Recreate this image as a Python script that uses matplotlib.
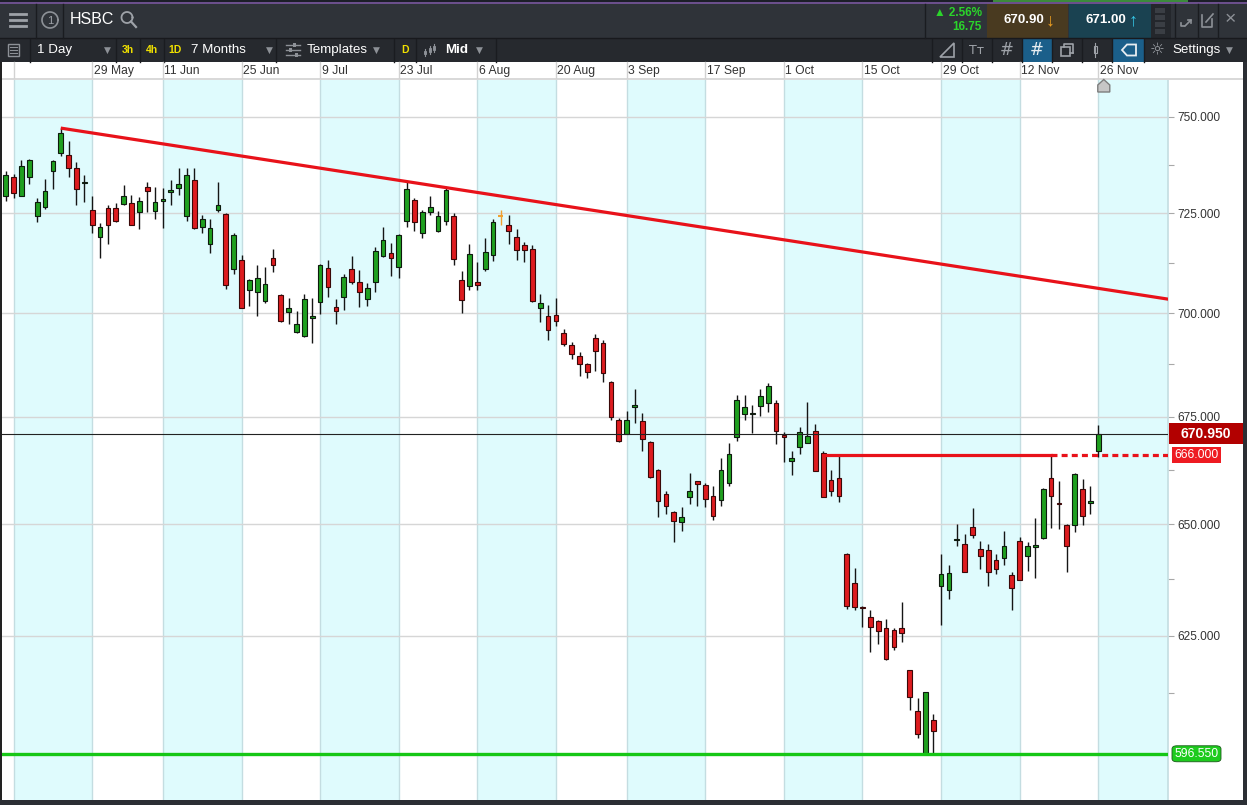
import numpy as np
import pandas as pd
import matplotlib
matplotlib.use('Agg')
import matplotlib.pyplot as plt
from matplotlib.patches import Rectangle, Polygon, FancyBboxPatch
from matplotlib.lines import Line2D
from matplotlib.ticker import FixedLocator, FixedFormatter, NullFormatter

plt.rcParams['font.family'] = ['Liberation Sans', 'DejaVu Sans']
plt.rcParams['lines.scale_dashes'] = False

# ---------------- data ----------------
trading_days = pd.bdate_range('2018-05-11', '2018-11-26')
holidays = pd.to_datetime(['2018-05-28', '2018-08-27'])
dates = trading_days[~trading_days.isin(holidays)]

opens = [729.5, 734.2, 729.5, 734.4, 724.2, 726.7, 735.9, 740.5, 739.9, 736.5,
         732.7, 725.8, 718.9, 726.4, 726.4, 727.4, 727.6, 725.4, 731.7, 725.5,
         728.1, 730.4, 731.5, 724.2, 733.5, 721.5, 717.1, 725.9, 724.8, 710.8,
         713.2, 705.7, 705.3, 702.9, 713.7, 704.4, 700.2, 695.3, 694.3, 698.8,
         702.7, 711.2, 701.6, 704.0, 710.9, 707.6, 703.4, 707.7, 714.3, 714.9,
         711.4, 723.1, 728.4, 720.0, 725.4, 720.5, 723.1, 724.2, 708.2, 706.7,
         707.6, 710.8, 714.5, 724.2, 722.0, 718.9, 717.0, 716.0, 701.2, 699.2,
         699.6, 695.2, 692.1, 689.5, 687.5, 693.9, 692.7, 683.2, 674.2, 670.9,
         677.3, 674.0, 669.1, 662.5, 656.9, 652.8, 650.4, 656.2, 659.8, 659.0,
         656.5, 655.4, 659.5, 670.2, 675.6, 675.5, 677.4, 678.2, 678.2, 670.5,
         664.6, 667.9, 668.8, 671.5, 666.5, 660.2, 660.6, 643.2, 636.7, 631.4,
         629.2, 628.2, 626.7, 626.3, 626.7, 617.4, 608.6, 599.8, 606.8, 636.1,
         635.2, 646.3, 645.5, 649.3, 644.4, 644.1, 641.9, 642.3, 638.5, 646.1,
         642.7, 644.7, 646.8, 660.6, 654.8, 649.8, 649.8, 658.1, 654.8, 666.8]
highs = [735.7, 735.1, 738.7, 739.0, 728.9, 733.8, 738.7, 747.0, 743.5, 738.2,
         734.8, 729.4, 722.5, 727.0, 727.6, 732.3, 729.7, 729.1, 732.9, 731.7,
         731.4, 733.5, 736.5, 736.5, 736.5, 724.6, 723.6, 733.1, 725.0, 720.0,
         714.5, 708.4, 712.0, 711.5, 716.0, 704.6, 703.8, 700.6, 704.8, 703.8,
         712.2, 713.2, 703.4, 709.7, 714.3, 710.7, 707.4, 716.4, 721.5, 717.4,
         719.8, 733.1, 728.9, 725.7, 729.4, 725.5, 731.4, 725.0, 710.4, 717.2,
         712.6, 718.7, 723.6, 725.7, 724.6, 721.0, 717.7, 717.0, 704.8, 701.9,
         703.6, 696.1, 693.0, 690.5, 687.9, 694.9, 693.5, 683.5, 674.6, 676.4,
         681.5, 675.8, 669.3, 662.7, 657.5, 652.9, 653.9, 661.8, 660.0, 659.5,
         658.7, 665.2, 668.7, 680.2, 680.2, 677.8, 681.5, 683.1, 678.9, 671.4,
         666.8, 672.5, 678.5, 673.3, 666.8, 662.5, 666.3, 643.4, 640.1, 631.6,
         630.6, 628.4, 628.7, 626.7, 632.5, 617.6, 611.4, 612.8, 608.1, 643.1,
         640.6, 650.0, 647.7, 653.6, 646.1, 645.5, 643.2, 648.4, 639.1, 647.1,
         646.0, 651.4, 658.2, 666.0, 659.9, 649.9, 661.8, 660.4, 658.8, 672.9]
lows = [728.0, 728.9, 729.3, 732.5, 722.7, 726.1, 731.2, 739.8, 734.4, 727.0,
        727.8, 720.0, 713.8, 717.2, 722.7, 727.0, 722.0, 721.0, 725.4, 723.6,
        721.3, 727.1, 729.7, 723.1, 720.9, 720.0, 714.9, 725.4, 705.9, 709.7,
        701.2, 701.7, 699.2, 702.6, 710.3, 697.7, 697.3, 695.0, 694.2, 692.7,
        699.8, 704.0, 697.3, 700.8, 707.3, 701.4, 701.7, 705.2, 714.0, 709.2,
        708.7, 721.5, 720.6, 718.8, 724.6, 720.3, 722.0, 711.8, 699.9, 705.6,
        705.6, 710.4, 712.8, 721.9, 717.1, 713.2, 712.6, 702.7, 697.7, 693.4,
        696.8, 691.9, 688.7, 684.8, 684.1, 685.9, 683.2, 674.1, 668.9, 670.8,
        673.6, 666.9, 660.6, 651.7, 652.3, 646.0, 648.4, 654.5, 654.2, 653.9,
        651.0, 654.1, 658.8, 669.2, 674.1, 671.2, 675.2, 676.2, 668.5, 664.4,
        661.3, 666.2, 668.7, 662.2, 656.1, 656.4, 655.0, 630.8, 630.7, 627.0,
        621.5, 623.1, 619.7, 621.9, 623.7, 608.8, 603.0, 599.6, 599.6, 627.3,
        633.1, 644.9, 639.1, 646.8, 639.8, 636.1, 638.6, 640.6, 630.6, 637.3,
        639.4, 637.8, 646.7, 649.0, 648.9, 639.2, 648.1, 649.8, 652.3, 665.4]
closes = [734.8, 730.1, 737.0, 738.7, 727.8, 730.6, 738.4, 745.7, 736.7, 731.3,
          733.0, 721.9, 721.5, 722.1, 722.9, 729.4, 722.1, 728.1, 730.6, 727.8,
          728.7, 731.0, 732.5, 734.8, 721.2, 723.6, 721.2, 727.1, 707.0, 719.5,
          701.3, 708.2, 708.7, 707.3, 712.0, 698.0, 701.3, 697.2, 703.5, 699.3,
          712.0, 706.5, 700.4, 709.0, 707.6, 705.1, 706.3, 715.4, 718.3, 713.6,
          719.5, 731.2, 722.7, 725.3, 726.5, 724.2, 731.0, 713.4, 703.3, 714.7,
          707.0, 715.2, 722.7, 724.2, 720.5, 715.6, 715.8, 702.9, 702.5, 695.8,
          698.0, 692.4, 690.1, 687.7, 685.6, 690.7, 685.5, 674.8, 669.2, 674.2,
          677.8, 669.8, 660.8, 655.2, 654.1, 650.6, 651.6, 657.5, 659.1, 655.7,
          651.9, 662.4, 666.2, 679.0, 677.3, 675.8, 680.0, 682.2, 671.5, 670.2,
          665.2, 671.3, 670.5, 662.3, 656.2, 657.5, 656.5, 631.6, 631.3, 631.0,
          626.9, 626.1, 619.9, 622.6, 625.5, 611.6, 603.8, 612.7, 604.5, 638.6,
          638.9, 646.6, 639.2, 647.4, 642.8, 639.2, 639.7, 644.9, 635.5, 637.4,
          645.0, 645.3, 658.1, 656.5, 654.5, 645.1, 661.5, 651.9, 655.3, 670.95]

grid_dates = ['2018-05-14', '2018-05-29', '2018-06-11', '2018-06-25', '2018-07-09',
              '2018-07-23', '2018-08-06', '2018-08-20', '2018-09-03', '2018-09-17',
              '2018-10-01', '2018-10-15', '2018-10-29', '2018-11-12', '2018-11-26']
grid_labels = ['', '29 May', '11 Jun', '25 Jun', '9 Jul', '23 Jul', '6 Aug', '20 Aug',
               '3 Sep', '17 Sep', '1 Oct', '15 Oct', '29 Oct', '12 Nov', '26 Nov']

price_ticks = [625, 650, 675, 700, 725, 750]
minor_price_ticks = [612.5, 637.5, 662.5, 687.5, 712.5, 737.5]

trend_x = [7, 148]
trend_y = [747.0, 703.4]
resistance = 666.0
resistance_dates = ['2018-10-08', '2018-11-16']
support = 599.6
support_label = '596.550'
last_price = 670.95
bid_price = '670.90'
ask_price = '671.00'
change_pct = '2.56%'
change_abs = '16.75'

# ---------------- figure ----------------
W, H = 1247, 805
fig = plt.figure(figsize=(W / 100, H / 100), dpi=100)
fig.patch.set_facecolor('white')


def fx(x):
    return x / W


def fy(y):
    return 1 - y / H


def rect(x0, y0, x1, y1, fc, ec='none', lw=0, z=1):
    fig.add_artist(Rectangle((fx(x0), fy(y1)), (x1 - x0) / W, (y1 - y0) / H,
                             transform=fig.transFigure, facecolor=fc, edgecolor=ec,
                             linewidth=lw, zorder=z))


def pline(xs, ys, color, lw=1, z=2, **kw):
    fig.add_artist(Line2D([fx(v) for v in xs], [fy(v) for v in ys],
                          transform=fig.transFigure, color=color, lw=lw, zorder=z, **kw))


def txt(x, y, s, size, color, weight='normal', ha='left', va='center', z=5, **kw):
    fig.text(fx(x), fy(y), s, fontsize=size, color=color, fontweight=weight,
             ha=ha, va=va, zorder=z, **kw)


def circ(cx, cy, r, color, lw=1.2):
    t = np.linspace(0, 2 * np.pi, 60)
    pline(cx + r * np.cos(t), cy + r * np.sin(t), color, lw)


# main chart axes (pixels: x 0..1168, y 80..800)
ax = fig.add_axes([0, fy(800), 1168 / W, (800 - 80) / H])
ax.set_facecolor('white')
xmin, xmax = -0.73, 147.87
ax.set_xlim(xmin, xmax)
ax.set_yscale('log')
ax.set_ylim(589.94, 759.73)

x = np.arange(len(dates))
o = np.array(opens)
h = np.array(highs)
l = np.array(lows)
c = np.array(closes)
pos = {d: i for i, d in enumerate(dates)}
grid_idx = [pos[pd.Timestamp(d)] for d in grid_dates]

# alternating bands and vertical grid
edges = grid_idx + [xmax]
for k in range(0, len(grid_idx), 2):
    ax.axvspan(edges[k], edges[k + 1], color='#dffbfd', zorder=0, lw=0)
for gi in grid_idx:
    ax.axvline(gi, color='#c4dde1', lw=1, zorder=0.5)
for p in price_ticks:
    ax.axhline(p, color='#d6d6d6', lw=1, zorder=0.6)

# candles
green, red, orange = '#1fa01f', '#dd1c1f', '#f0a030'
for i in range(len(x)):
    if c[i] == o[i]:
        ax.vlines(x[i], l[i], h[i], color=orange, lw=1, zorder=3)
        ax.hlines(c[i], x[i] - 0.32, x[i] + 0.32, color=orange, lw=1.5, zorder=4)
        continue
    ax.vlines(x[i], l[i], h[i], color='#151515', lw=1, zorder=3)
    lo, hi = min(o[i], c[i]), max(o[i], c[i])
    if hi - lo < 0.35:
        hi = lo + 0.35
    fc = green if c[i] > o[i] else red
    ec = '#0e1a0e' if c[i] > o[i] else '#3a0808'
    ax.add_patch(Rectangle((x[i] - 0.3, lo), 0.6, hi - lo, facecolor=fc,
                           edgecolor=ec, lw=0.8, zorder=4))

# drawn lines
ax.plot(trend_x, trend_y, color='#e8121a', lw=2.3, zorder=5, solid_capstyle='butt')
r0, r1 = pos[pd.Timestamp(resistance_dates[0])], pos[pd.Timestamp(resistance_dates[1])]
ax.plot([r0, r1], [resistance, resistance], color='#e8121a', lw=2.3, zorder=5)
ax.plot([r1, xmax], [resistance, resistance], color='#e8121a', lw=2.3, zorder=5,
        dashes=(4.3, 3.0))
ax.axhline(support, color='#16c716', lw=2.4, zorder=5)
ax.axhline(last_price, color='#222222', lw=0.8, zorder=5)

# axes styling
for s in ['left', 'top', 'bottom']:
    ax.spines[s].set_visible(False)
ax.spines['right'].set_color('#c4dde1')
ax.spines['right'].set_linewidth(1.2)
ax.set_xticks([])
ax.yaxis.tick_right()
ax.yaxis.set_major_locator(FixedLocator(price_ticks))
ax.yaxis.set_major_formatter(FixedFormatter(['%.3f' % p for p in price_ticks]))
ax.yaxis.set_minor_locator(FixedLocator(minor_price_ticks))
ax.yaxis.set_minor_formatter(NullFormatter())
ax.tick_params(axis='y', which='both', length=4.5, width=0.8, color='#a8a8a8',
               labelsize=8.6, labelcolor='#333333', pad=2)


def xpix(i):
    return ax.transData.transform((i, 700))[0]


def ypix(v):
    return H - ax.transData.transform((0, v))[1]


# ---------------- top toolbar ----------------
rect(0, 0, W, 38, '#2f3339')
rect(0, 0, W, 2.5, '#1c1e28')
rect(993, 0, 1188, 2.5, '#3c8a3c')
rect(0, 2.5, W, 4, '#6b4f8c')
rect(0, 38, W, 62, '#26292e')
pline([0, W], [38.5, 38.5], '#18191d', 1)
for xs in [36, 63, 925]:
    pline([xs, xs], [4, 38], '#1a1c20', 1)
# hamburger
for yy in [14, 20, 26]:
    pline([10, 26], [yy, yy], '#9ea2a8', 2)
circ(50, 20, 8, '#8d9197', 1.2)
txt(50, 20.5, '1', 8, '#9ea2a8', ha='center')
txt(70, 20, 'HSBC', 11.5, 'white')
circ(127, 17.5, 5.5, '#9ea2a8', 1.3)
pline([131, 136], [21.5, 27], '#9ea2a8', 1.6)

# price boxes
rect(987, 4, 1068, 38, '#493a20')
rect(1069, 4, 1151, 38, '#1a4251')
rect(1151, 4, 1171, 38, '#24272c')
for yy in [8, 15, 22, 29]:
    rect(1155, yy, 1165, yy + 5, '#3a3e44')
txt(982, 13, '\u25b2 ' + change_pct, 8.5, '#2bd42b', weight='bold', ha='right')
txt(982, 27, change_abs, 8.5, '#2bd42b', weight='bold', ha='right')
txt(1004, 20, bid_price, 9.5, 'white', weight='bold')
txt(1050, 21, '\u2193', 13, '#f0a020', weight='bold', ha='center')
txt(1086, 20, ask_price, 9.5, 'white', weight='bold')
txt(1133, 21, '\u2191', 13, '#35c8e8', weight='bold', ha='center')
for xs in [1175, 1198, 1218]:
    pline([xs, xs], [4, 38], '#1a1c20', 1)
pline([1185, 1191], [26, 20], '#8d9197', 1.2)
pline([1188, 1191, 1191], [20, 20, 23], '#8d9197', 1.2)
pline([1181, 1181, 1184], [23, 26, 26], '#8d9197', 1.2)
pline([1202, 1202, 1212, 1212], [15, 27, 27, 19], '#8d9197', 1.2)
pline([1206, 1213], [22, 14], '#8d9197', 1.2)
txt(1230, 20, '\u00d7', 14, '#8d9197', ha='center')

# second toolbar row
for xs in [30, 116, 140, 164, 276, 394, 416, 496, 932, 962, 992, 1022, 1052, 1082,
           1112, 1144]:
    pline([xs, xs], [39, 62], '#1a1c20', 1)
rect(1022, 39, 1052, 62, '#1b5f8a')
rect(1112, 39, 1144, 62, '#1b5f8a')
rect(8, 44, 19, 56, 'none', ec='#8d9197', lw=1)
for yy in [47, 50, 53]:
    pline([10, 17], [yy, yy], '#8d9197', 0.8)
txt(37, 50, '1 Day', 9.6, 'white')
for xv in [107, 269, 376, 479, 1229]:
    txt(xv, 50, '\u25bc', 6.5, '#8d9197', ha='center', family=['DejaVu Sans'])
txt(122, 50, '3h', 7.5, '#f0e000', weight='bold')
txt(146, 50, '4h', 7.5, '#f0e000', weight='bold')
txt(168, 50, '1D', 7.5, '#f0e000', weight='bold')
txt(191, 50, '7 Months', 9.6, 'white')
for yy, kx in [(45, 294), (50, 290), (55, 296)]:
    pline([286, 300], [yy, yy], '#8d9197', 1)
    rect(kx - 1.5, yy - 2, kx + 1.5, yy + 2, '#8d9197')
txt(307, 50, 'Templates', 9.6, 'white')
txt(401, 50, 'D', 7.5, '#f0e000', weight='bold')
for bx, b0, b1 in [(425, 49, 56), (430, 46, 54), (434, 44, 52)]:
    pline([bx, bx], [b0, b1], '#8d9197', 0.8)
    rect(bx - 1.3, b0 + 2, bx + 1.3, b1 - 2, 'none', ec='#8d9197', lw=0.7)
txt(445, 50, 'Mid', 9.6, 'white', weight='bold')
# right icons
fig.add_artist(Polygon([(fx(940), fy(57)), (fx(954), fy(57)), (fx(954), fy(43))],
                       closed=True, transform=fig.transFigure, fc='none',
                       ec='#9ea2a8', lw=1.2))
txt(977, 51, 'T\u0442', 9, '#9ea2a8', ha='center', family=['DejaVu Sans'])
txt(1007, 50, '#', 12, '#9ea2a8', ha='center', family=['DejaVu Sans'])
txt(1037, 50, '#', 12, '#e8eef2', ha='center', family=['DejaVu Sans'])
rect(1061, 47, 1070, 56, 'none', ec='#9ea2a8', lw=1.2)
pline([1064, 1064, 1073, 1073], [47, 44, 44, 53], '#9ea2a8', 1.2)
pline([1073, 1070], [53, 53], '#9ea2a8', 1.2)
pline([1095, 1095], [43, 57], '#9ea2a8', 0.8)
rect(1093.5, 46, 1096.5, 53, 'none', ec='#9ea2a8', lw=0.8)
fig.add_artist(Polygon([(fx(1122), fy(50)), (fx(1127), fy(44.5)), (fx(1136), fy(44.5)),
                        (fx(1136), fy(55.5)), (fx(1127), fy(55.5))], closed=True,
                       transform=fig.transFigure, fc='none', ec='#e8eef2', lw=1.3))
txt(1157, 50, '\u263c', 12, '#9ea2a8', ha='center', family=['DejaVu Sans'])
txt(1172, 50, 'Settings', 9.6, 'white')

# ---------------- date row ----------------
rect(0, 62, 1243, 78, 'white')
rect(0, 78, 1243, 80, '#d9d9d9')
for gi, lab in zip(grid_idx, grid_labels):
    xp = xpix(gi)
    pline([xp, xp], [62, 78], '#d2d2d2', 1)
    if lab:
        txt(xp + 1.5, 71, lab, 8.7, '#333333')
# marker on last date
xc = xpix(grid_idx[-1]) + 5.5
fig.add_artist(Polygon([(fx(xc - 6), fy(92)), (fx(xc + 6), fy(92)), (fx(xc + 6), fy(85)),
                        (fx(xc), fy(79.5)), (fx(xc - 6), fy(85))], closed=True,
                       transform=fig.transFigure, fc='#c6c6c6', ec='#7d7d7d', lw=1,
                       zorder=6))


# ---------------- price tags on right axis ----------------
def tag(value, text, fc, x0, x1, hh, size, weight, round_=False):
    yc = ypix(value)
    if round_:
        fig.add_artist(FancyBboxPatch((fx(x0), fy(yc + hh / 2)), (x1 - x0) / W, hh / H,
                                      boxstyle='round,pad=0,rounding_size=0.004',
                                      transform=fig.transFigure, fc=fc, ec='#1a5a1a',
                                      lw=0.6, zorder=6))
    else:
        rect(x0, yc - hh / 2, x1, yc + hh / 2, fc, z=6)
    txt((x0 + x1) / 2, yc + 0.5, text, size, 'white', weight=weight, ha='center', z=7)


tag(last_price, '%.3f' % last_price, '#b20000', 1169, 1243, 21, 10, 'bold')
tag(resistance, '%.3f' % resistance, '#ee1b22', 1172, 1221, 16, 8.8, 'normal')
tag(support, support_label, '#1ecb1e', 1172, 1221, 16, 8.8, 'normal', round_=True)

# borders
rect(0, 62, 1.5, 805, '#222222', z=6)
rect(1243, 62, W, 805, '#2b2e34', z=6)
rect(0, 800, W, 805, '#2b2e34', z=6)

fig.savefig('out.png', dpi=100)
